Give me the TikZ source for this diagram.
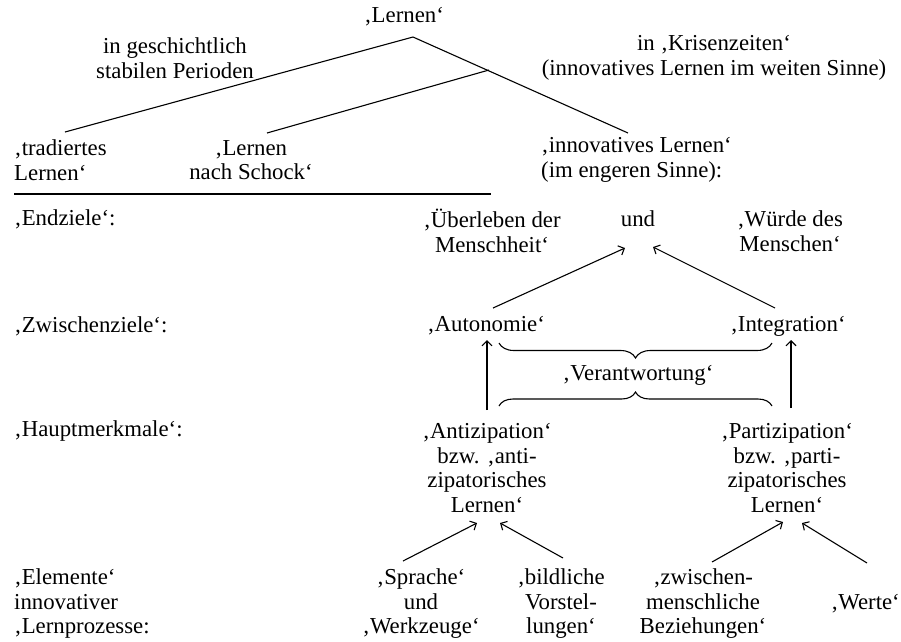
\documentclass[tikz,border=0pt]{standalone}
\usepackage{fontspec}
\setmainfont{Liberation Serif}
\usetikzlibrary{arrows.meta,decorations.pathreplacing}
\begin{document}
\begin{tikzpicture}[x=1pt,y=-1pt,
  txt/.style={inner sep=0pt,align=center,font=\fontsize{22.8}{24.5}\selectfont},
  lft/.style={txt,align=left,anchor=west},
  ln/.style={line width=1.1pt},
  arr/.style={line width=1.1pt,-{Straight Barb[length=5pt,width=10pt,line width=1.1pt]}},
  brc/.style={line width=1.1pt,decorate,decoration={brace,amplitude=#1}}]
\useasboundingbox (0,0) rectangle (901,641);
% top
\node[txt] (lern) at (404,17) {‚Lernen‘};
\node[txt] (stab) at (175,58) {in geschichtlich\\stabilen Perioden};
\node[txt] (kris) at (714,58) {in ‚Krisenzeiten‘\\(innovatives Lernen im weiten Sinne)};
\node[lft] (trad) at (14,160) {‚tradiertes\\Lernen‘};
\node[txt] (schock) at (251,160) {‚Lernen\\nach Schock‘};
\node[lft] (innov) at (541,160) {‚innovatives Lernen‘\\(im engeren Sinne):};
\coordinate (top) at (413,37);
\coordinate (fork) at (489,70);
\coordinate (tradtop) at (65,132);
\coordinate (schocktop) at (267,133);
\coordinate (innovtop) at (628,133);
\draw[ln] (top) -- (tradtop);
\draw[ln] (top) -- (innovtop);
\draw[ln] (fork) -- (schocktop);
\coordinate (hl1) at (14,194);
\coordinate (hl2) at (491,194);
\draw[ln] (hl1) -- (hl2);
% Endziele
\node[lft] (endz) at (14,219) {‚Endziele‘:};
\node[txt] (ueber) at (492,231) {‚Überleben der\\Menschheit‘};
\node[txt] (und) at (638,219) {und};
\node[txt] (wuerde) at (790,231) {‚Würde des\\Menschen‘};
% Zwischenziele
\node[lft] (zw) at (14,326) {‚Zwischenziele‘:};
\node[txt] (aut) at (486,326) {‚Autonomie‘};
\node[txt] (integ) at (788,326) {‚Integration‘};
\coordinate (a1s) at (493,308); \coordinate (a1e) at (625,248);
\coordinate (a2s) at (775,308); \coordinate (a2e) at (653,247);
\draw[arr] (a1s) -- (a1e);
\draw[arr] (a2s) -- (a2e);
% braces
\coordinate (b1r) at (772,343); \coordinate (b1l) at (499,343);
\coordinate (b2l) at (499,406); \coordinate (b2r) at (772,406);
\draw[brc=15pt] (b1r) -- (b1l);
\draw[brc=14pt] (b2l) -- (b2r);
\node[txt] (ver) at (638,375) {‚Verantwortung‘};
% Hauptmerkmale
\node[lft] (haupt) at (14,431) {‚Hauptmerkmale‘:};
\node[txt] (anti) at (487,468) {‚Antizipation‘\\bzw. ‚anti-\\zipatorisches\\Lernen‘};
\node[txt] (parti) at (787,468) {‚Partizipation‘\\bzw. ‚parti-\\zipatorisches\\Lernen‘};
\coordinate (v1s) at (487,410); \coordinate (v1e) at (487,340);
\coordinate (v2s) at (791,408); \coordinate (v2e) at (791,340);
\draw[arr] (v1s) -- (v1e);
\draw[arr] (v2s) -- (v2e);
% Elemente
\node[lft] (elem) at (14,604) {‚Elemente‘\\innovativer\\‚Lernprozesse:};
\node[txt] (spr) at (421,604) {‚Sprache‘\\und\\‚Werkzeuge‘};
\node[txt] (bild) at (561,604) {‚bildliche\\Vorstel-\\lungen‘};
\node[txt] (zwm) at (703,604) {‚zwischen-\\menschliche\\Beziehungen‘};
\node[txt,anchor=east] (werte) at (900,604) {‚Werte‘};
\coordinate (s1s) at (403,561); \coordinate (s1e) at (477,523);
\coordinate (s2s) at (563,558); \coordinate (s2e) at (500,523);
\coordinate (s3s) at (712,562); \coordinate (s3e) at (783,522);
\coordinate (s4s) at (867,563); \coordinate (s4e) at (802,523);
\draw[arr] (s1s) -- (s1e);
\draw[arr] (s2s) -- (s2e);
\draw[arr] (s3s) -- (s3e);
\draw[arr] (s4s) -- (s4e);
\end{tikzpicture}
\end{document}
